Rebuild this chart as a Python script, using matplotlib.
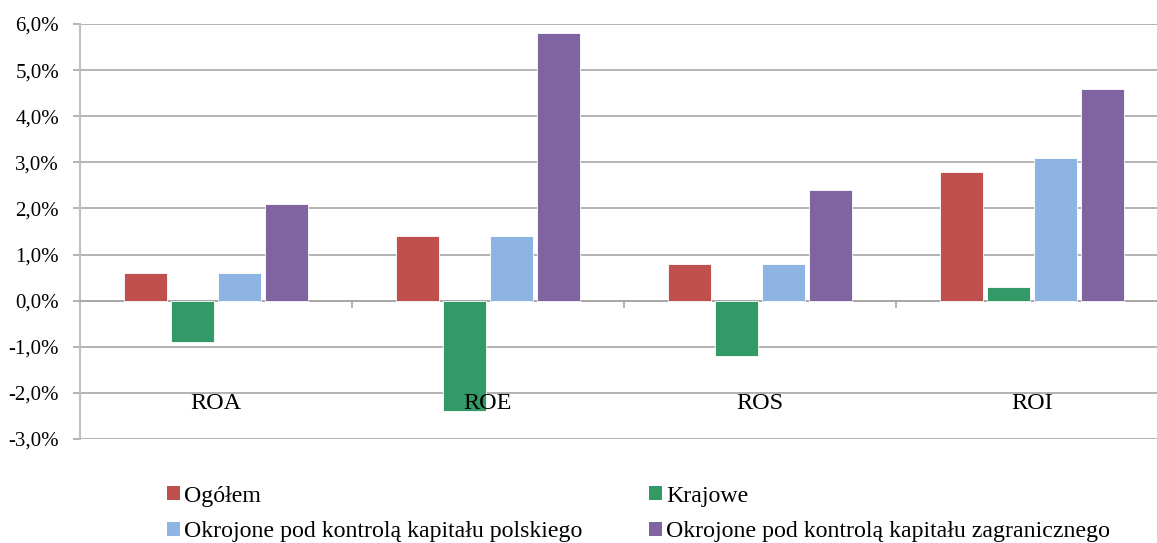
import numpy as np
import matplotlib.pyplot as plt
from matplotlib.patches import Patch
from matplotlib.ticker import FuncFormatter

plt.rcParams['font.family'] = ['Liberation Serif', 'DejaVu Serif']

# dane
kategorie = ["ROA", "ROE", "ROS", "ROI"]
ogolem = [0.6, 1.4, 0.8, 2.8]
krajowe = [-0.9, -2.4, -1.2, 0.3]
polskie = [0.6, 1.4, 0.8, 3.1]
zagraniczne = [2.1, 5.8, 2.4, 4.6]
serie = ["Ogółem", "Krajowe",
         "Okrojone pod kontrolą kapitału polskiego",
         "Okrojone pod kontrolą kapitału zagranicznego"]
kolory = ["#C0504D", "#339966", "#8DB4E2", "#8064A2"]

fig = plt.figure(figsize=(11.57, 5.43), dpi=100)
ax = fig.add_axes([80/1157, 1-439/543, 1088/1157, 415/543])

x = np.arange(len(kategorie))
szer = 0.158
krok = 0.173
for i, (dane, kol) in enumerate(zip([ogolem, krajowe, polskie, zagraniczne], kolory)):
    ax.bar(x + (i - 1.5)*krok, dane, szer, color=kol, edgecolor='white', linewidth=0.6, zorder=3)

ax.set_xlim(-0.5, 3.5)
ax.set_ylim(-3, 6)
ax.set_yticks(np.arange(-3, 7, 1))
ax.yaxis.set_major_formatter(FuncFormatter(lambda v, p: ("%.1f%%" % v).replace('.', ',')))
ax.grid(axis='y', color='#A6A6A6', linewidth=1.2, zorder=0)
ax.tick_params(axis='y', labelsize=15, length=5, color='#A6A6A6', width=1.2, pad=10)

ax.set_xticks([0.5, 1.5, 2.5])
ax.set_xticklabels([])
ax.tick_params(axis='x', length=5, color='#A6A6A6', width=1.2, direction='out')
ax.spines['bottom'].set_position(('data', 0))
ax.spines['bottom'].set_color('#A6A6A6')
ax.spines['bottom'].set_linewidth(1.2)
ax.spines['left'].set_color('#BFBFBF')
ax.spines['left'].set_linewidth(1.5)
for s in ['top', 'right']:
    ax.spines[s].set_visible(False)

for xi, k in zip(x, kategorie):
    ax.text(xi, -2.23, k, ha='center', va='center', fontsize=17.5)

uchwyty = [Patch(facecolor=k, edgecolor='none') for k in kolory]
kol_uchwyty = [uchwyty[0], uchwyty[2], uchwyty[1], uchwyty[3]]
kol_nazwy = [serie[0], serie[2], serie[1], serie[3]]
fig.legend(kol_uchwyty, kol_nazwy, loc='upper left', bbox_to_anchor=(157/1157, 1-476/543),
           ncol=2, frameon=False, fontsize=17.2, handlelength=0.55, handleheight=0.55,
           handletextpad=0.2, columnspacing=2.75, labelspacing=0.62, borderaxespad=0)

fig.savefig("out.png", dpi=100)
